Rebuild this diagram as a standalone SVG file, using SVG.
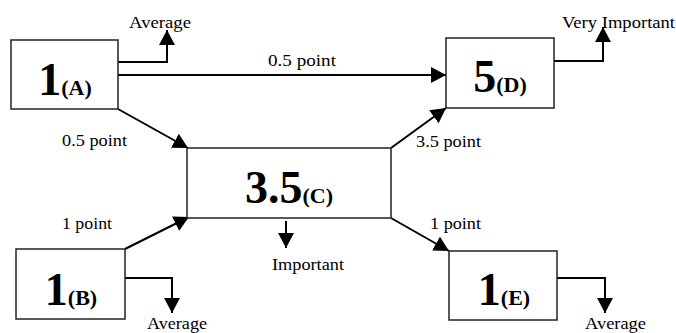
<svg xmlns="http://www.w3.org/2000/svg" width="676" height="333" viewBox="0 0 676 333">
<style>
.box{fill:#fff;stroke:#222;stroke-width:1.5}
.big{font-family:"Liberation Serif","Times New Roman",serif;font-weight:bold;font-size:46px;fill:#000}
.sub{font-size:22px}
.lbl{font-family:"Liberation Serif","Times New Roman",serif;font-size:17px;fill:#000}
.con{fill:none;stroke:#000;stroke-width:2}
</style>
<defs>
<marker id="ah" markerUnits="userSpaceOnUse" markerWidth="15" markerHeight="16" refX="15" refY="8" orient="auto">
<path d="M0,0 L15,8 L0,16 z" fill="#000"/>
</marker>
</defs>
<rect width="676" height="333" fill="#fff"/>
<g id="connectors">
<line class="con" x1="118" y1="75" x2="446" y2="75" marker-end="url(#ah)"/>
<line class="con" x1="118" y1="109" x2="188" y2="148" marker-end="url(#ah)"/>
<line class="con" x1="125" y1="249" x2="189" y2="217" marker-end="url(#ah)"/>
<line class="con" x1="391" y1="148" x2="446" y2="108" marker-end="url(#ah)"/>
<line class="con" x1="391" y1="218" x2="449" y2="251" marker-end="url(#ah)"/>
<polyline class="con" points="118,62 167,62 167,30" marker-end="url(#ah)"/>
<polyline class="con" points="554,61 603,61 603,27" marker-end="url(#ah)"/>
<line class="con" x1="286" y1="221" x2="286" y2="248" marker-end="url(#ah)"/>
<polyline class="con" points="125,278 172,278 172,313" marker-end="url(#ah)"/>
<polyline class="con" points="557,278 605,278 605,313" marker-end="url(#ah)"/>
<text class="lbl" x="268" y="66" textLength="68" lengthAdjust="spacingAndGlyphs">0.5 point</text>
<text class="lbl" x="62" y="145.5" textLength="65" lengthAdjust="spacingAndGlyphs">0.5 point</text>
<text class="lbl" x="416" y="147" textLength="65" lengthAdjust="spacingAndGlyphs">3.5 point</text>
<text class="lbl" x="62" y="229" textLength="50" lengthAdjust="spacingAndGlyphs">1 point</text>
<text class="lbl" x="430" y="229" textLength="51" lengthAdjust="spacingAndGlyphs">1 point</text>
<text class="lbl" x="129" y="28" textLength="62" lengthAdjust="spacingAndGlyphs">Average</text>
<text class="lbl" x="562" y="28" textLength="113" lengthAdjust="spacingAndGlyphs">Very Important</text>
<text class="lbl" x="272" y="270" textLength="72" lengthAdjust="spacingAndGlyphs">Important</text>
<text class="lbl" x="147" y="328.5" textLength="60" lengthAdjust="spacingAndGlyphs">Average</text>
<text class="lbl" x="585" y="328.5" textLength="61" lengthAdjust="spacingAndGlyphs">Average</text>
</g>
<g id="nodeA">
<rect class="box" x="11" y="40" width="107" height="69"/>
<text class="big" x="65" y="95" text-anchor="middle">1<tspan class="sub">(A)</tspan></text>
</g>
<g id="nodeD">
<rect class="box" x="446" y="38" width="108" height="70"/>
<text class="big" x="500" y="92" text-anchor="middle">5<tspan class="sub">(D)</tspan></text>
</g>
<g id="nodeC">
<rect class="box" x="187" y="148" width="204" height="70"/>
<text class="big" x="289" y="203" text-anchor="middle">3.5<tspan class="sub">(C)</tspan></text>
</g>
<g id="nodeB">
<rect class="box" x="16" y="249" width="109" height="70"/>
<text class="big" x="71" y="305" text-anchor="middle">1<tspan class="sub">(B)</tspan></text>
</g>
<g id="nodeE">
<rect class="box" x="449" y="251" width="108" height="69"/>
<text class="big" x="504" y="305" text-anchor="middle">1<tspan class="sub">(E)</tspan></text>
</g>
</svg>
